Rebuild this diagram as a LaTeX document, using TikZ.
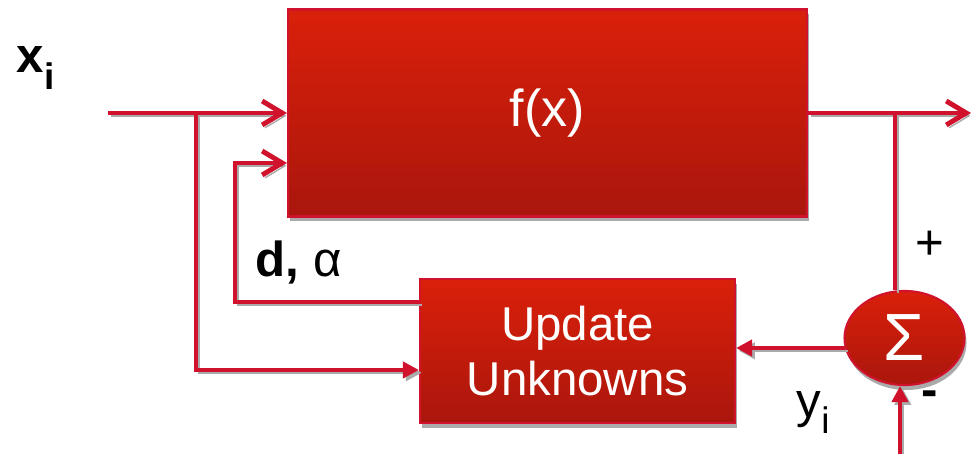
\documentclass[tikz,border=0pt]{standalone}
\usepackage{fontspec}
\setmainfont{Liberation Sans}
\usetikzlibrary{arrows.meta,shapes.geometric,shadows,calc}
\definecolor{wirered}{RGB}{208,18,44}
\definecolor{boxtop}{RGB}{218,32,10}
\definecolor{boxbot}{RGB}{170,22,12}
\definecolor{shade}{RGB}{170,170,170}

\begin{document}
\begin{tikzpicture}[
  block/.style={draw=wirered, line width=0.6pt, top color=boxtop, bottom color=boxbot,
    text=white, align=center, font=\fontsize{13.5}{15.6}\selectfont,
    drop shadow={shadow xshift=0.02cm, shadow yshift=-0.05cm, fill=shade, opacity=1}},
  wire/.style={draw=wirered, line width=1.4pt,
    preaction={draw=shade, transform canvas={xshift=0.8pt, yshift=-0.8pt}}},
  barb/.style={wire, -{Straight Barb[length=0.2cm, width=0.24cm]}},
  tri/.style={wire, -{Triangle[length=0.16cm, width=0.16cm]}},
  lbl/.style={font=\fontsize{14}{16}\selectfont}]
  \useasboundingbox (0,0) rectangle (9.71,4.54);

  %% blocks
  \node[block, minimum width=5.19cm, minimum height=2.07cm, font=\fontsize{14.8}{16}\selectfont] (fx) at (5.475,3.41) {f(x)};
  \node[block, minimum width=3.15cm, minimum height=1.44cm] (upd) at (5.775,1.03) {Update\\Unknowns};
  \node[block, ellipse, minimum width=1.2cm, minimum height=0.94cm, inner sep=0pt, font=\fontsize{19}{20}\selectfont] (sum) at (9.045,1.16) {Σ};

  %% input and the branch to the update block
  \coordinate (xin) at (1.08,3.41);
  \coordinate (split) at (1.96,3.41);
  \draw[barb] (xin) -- (xin -| fx.west);
  \draw[tri] (split) |- ($(upd.west)+(0,-0.19)$);

  %% parameters fed back into f(x)
  \coordinate (back) at (2.35,2.91);
  \draw[barb] ($(upd.west)+(0,0.49)$) -| (back) -- (back -| fx.west);

  %% output, tapped into the summing point
  \coordinate (yout) at (9.71,3.41);
  \coordinate (tap) at (8.95,3.41);
  \draw[barb] (fx.east) -- (yout);
  \draw[wire] (tap) -- (tap |- sum.north);

  %% error back to the update block
  \coordinate (err) at ($(sum.west)+(0.015,-0.1)$);
  \draw[tri] (err) -- (err -| upd.east);

  %% reference value from below
  \coordinate (yref) at (9.0,0);
  \draw[tri] (yref) -- (yref |- sum.south);

  %% labels
  \node[lbl, anchor=base west, inner sep=0pt] (xlab) at (0.16,3.81) {\textbf{x}\raisebox{-4.8pt}{\fontsize{10.5}{11}\selectfont\textbf{i}}};
  \node[lbl, anchor=base west, inner sep=0pt] (dlab) at (2.55,1.77) {\textbf{d,} α};
  \node[lbl, inner sep=0pt] (plus) at (9.30,2.09) {+};
  \node[lbl, inner sep=0pt] (minus) at (9.30,0.55) {\textbf{-}};
  \node[lbl, anchor=base west, inner sep=0pt] (ylab) at (7.96,0.36) {y\raisebox{-4.5pt}{\fontsize{10.5}{11}\selectfont i}};
\end{tikzpicture}
\end{document}
